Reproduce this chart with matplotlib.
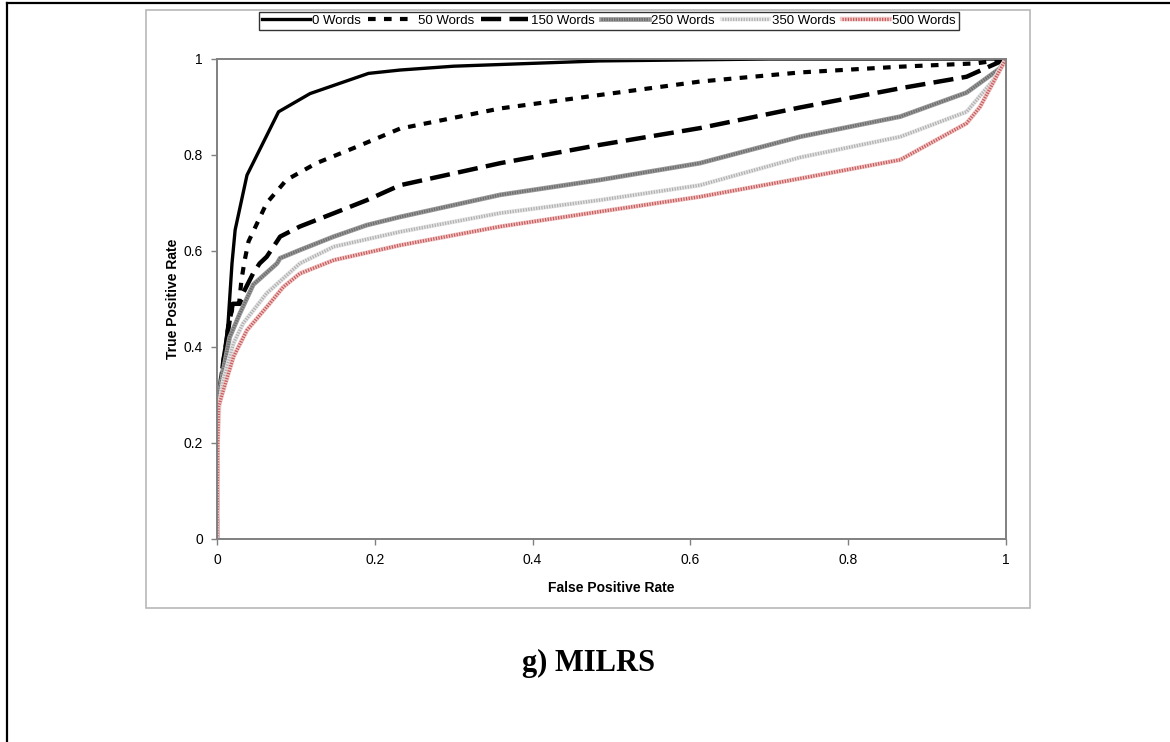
import matplotlib
matplotlib.use("Agg")
import matplotlib.pyplot as plt
from matplotlib.lines import Line2D
from matplotlib.patches import Rectangle

plt.rcParams['font.family'] = ['Liberation Sans', 'DejaVu Sans']
plt.rcParams['lines.scale_dashes'] = False

# ---- data ----
labels = ["0 Words", "50 Words", "150 Words", "250 Words", "350 Words", "500 Words"]

fpr_0 = [0, 0, 0.003, 0.008, 0.014, 0.019, 0.023, 0.038, 0.078, 0.118, 0.192, 0.232, 0.30, 0.485, 0.70, 1.0]
tpr_0 = [0, 0.25, 0.30, 0.366, 0.449, 0.574, 0.644, 0.758, 0.89, 0.928, 0.97, 0.977, 0.985, 0.996, 1.0, 1.0]

fpr_50 = [0, 0, 0.008, 0.015, 0.021, 0.028, 0.031, 0.035, 0.04, 0.063, 0.088, 0.126, 0.177, 0.232, 0.359, 0.485, 0.612, 0.739, 0.866, 0.963, 1.0]
tpr_50 = [0, 0.27, 0.37, 0.45, 0.49, 0.49, 0.54, 0.58, 0.62, 0.70, 0.748, 0.783, 0.817, 0.855, 0.897, 0.925, 0.953, 0.972, 0.984, 0.991, 1.0]

fpr_150 = [0, 0, 0.008, 0.016, 0.02, 0.029, 0.033, 0.046, 0.054, 0.063, 0.076, 0.08, 0.105, 0.147, 0.19, 0.232, 0.359, 0.485, 0.612, 0.739, 0.866, 0.95, 1.0]
tpr_150 = [0, 0.27, 0.37, 0.455, 0.49, 0.49, 0.512, 0.554, 0.574, 0.588, 0.62, 0.63, 0.651, 0.678, 0.706, 0.737, 0.783, 0.821, 0.856, 0.899, 0.939, 0.963, 1.0]

fpr_250 = [0, 0, 0.002, 0.008, 0.016, 0.029, 0.046, 0.076, 0.08, 0.105, 0.148, 0.19, 0.232, 0.359, 0.485, 0.612, 0.739, 0.866, 0.95, 0.992, 1.0]
tpr_250 = [0, 0.2, 0.296, 0.352, 0.42, 0.47, 0.53, 0.574, 0.585, 0.602, 0.63, 0.654, 0.671, 0.717, 0.748, 0.783, 0.838, 0.88, 0.93, 0.98, 1.0]

fpr_350 = [0, 0, 0.003, 0.008, 0.021, 0.033, 0.063, 0.105, 0.148, 0.232, 0.359, 0.485, 0.612, 0.739, 0.866, 0.95, 0.984, 1.0]
tpr_350 = [0, 0.18, 0.28, 0.331, 0.408, 0.449, 0.512, 0.574, 0.609, 0.640, 0.679, 0.706, 0.737, 0.795, 0.838, 0.89, 0.956, 1.0]

fpr_500 = [0, 0.001, 0.002, 0.008, 0.021, 0.038, 0.067, 0.084, 0.105, 0.148, 0.232, 0.359, 0.485, 0.612, 0.739, 0.866, 0.95, 0.967, 0.99, 1.0]
tpr_500 = [0, 0.2, 0.276, 0.31, 0.38, 0.435, 0.491, 0.525, 0.553, 0.581, 0.612, 0.651, 0.682, 0.713, 0.751, 0.79, 0.866, 0.9, 0.97, 1.0]

x_ticks = [0, 0.2, 0.4, 0.6, 0.8, 1]
y_ticks = [0, 0.2, 0.4, 0.6, 0.8, 1]
x_tick_labels = ["0", "0.2", "0.4", "0.6", "0.8", "1"]
y_tick_labels = ["0", "0.2", "0.4", "0.6", "0.8", "1"]

# ---- figure ----
fig = plt.figure(figsize=(11.7, 7.42), dpi=100)

# page border (top & left visible)
fig.add_artist(Line2D([7/1170, 7/1170], [0, 1 - 3/742], transform=fig.transFigure, color='black', lw=1.6))
fig.add_artist(Line2D([7/1170, 1], [1 - 3/742, 1 - 3/742], transform=fig.transFigure, color='black', lw=1.6))

# chart area frame
fig.add_artist(Rectangle((146/1170, 1 - 608/742), (1030 - 146)/1170, (608 - 10)/742,
                         transform=fig.transFigure, fill=False, edgecolor='#b8b8b8', lw=1.2))

ax = fig.add_axes([217/1170, 1 - 539/742, (1006 - 217)/1170, (539 - 59)/742])

h0, = ax.plot(fpr_0, tpr_0, color='black', lw=2.4, solid_joinstyle='round')
h50, = ax.plot(fpr_50, tpr_50, color='black', lw=3.0, linestyle=(0, (5.5, 6.0)))
h150, = ax.plot(fpr_150, tpr_150, color='black', lw=3.2, linestyle=(0, (14.5, 6.0)))
h250a, = ax.plot(fpr_250, tpr_250, color='#9a9a9a', lw=3.4)
h250b, = ax.plot(fpr_250, tpr_250, color='#6e6e6e', lw=2.2, linestyle=(0, (1.0, 0.8)))
h350a, = ax.plot(fpr_350, tpr_350, color='#e6e6e6', lw=3.2)
h350b, = ax.plot(fpr_350, tpr_350, color='#b0b0b0', lw=2.4, linestyle=(0, (0.9, 1.0)))
h500a, = ax.plot(fpr_500, tpr_500, color='#f0c8c8', lw=3.2)
h500b, = ax.plot(fpr_500, tpr_500, color='#c85a5a', lw=2.4, linestyle=(0, (0.9, 1.0)))

ax.set_xlim(0, 1)
ax.set_ylim(0, 1)
ax.set_xticks(x_ticks)
ax.set_xticklabels(x_tick_labels)
ax.set_yticks(y_ticks)
ax.set_yticklabels(y_tick_labels)
for s in ax.spines.values():
    s.set_color('#808080')
    s.set_linewidth(1.4)
ax.tick_params(axis='both', direction='out', length=4, width=1, color='#808080',
               labelsize=10, pad=6)
ax.set_xlabel("False Positive Rate", fontsize=10, fontweight='bold', labelpad=10)
ax.set_ylabel("True Positive Rate", fontsize=10, fontweight='bold', labelpad=3)

handles = [h0, h50, h150, (h250a, h250b), (h350a, h350b), (h500a, h500b)]
leg = fig.legend(handles, labels, loc='center', bbox_to_anchor=(609/1170, 1 - 21/742),
                 ncol=6, fontsize=9.5, frameon=True, fancybox=False, borderpad=0.25,
                 handlelength=3.6, handletextpad=0.2, columnspacing=0.5,
                 borderaxespad=0)
leg.get_frame().set_edgecolor('black')
leg.get_frame().set_linewidth(1.0)

fig.text(588/1170, 1 - 663/742, "g) MILRS", ha='center', va='center',
         fontsize=22, fontweight='bold', family=['Liberation Serif', 'DejaVu Serif'])

fig.savefig("out.png", dpi=100)
